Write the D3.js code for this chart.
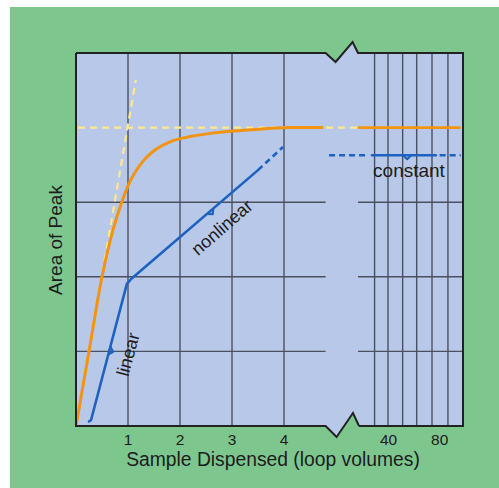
<!DOCTYPE html>
<html><head><meta charset="utf-8">
<script src="https://cdn.jsdelivr.net/npm/d3@7"></script>
<style>html,body{margin:0;padding:0;background:#fff;}svg{display:block;}</style>
</head><body>
<script>
// ---- data ----
const leftGridX = [1, 2, 3, 4];
const rightGridX = [29, 39.5, 51, 62, 74, 86.5];
const gridY = [1, 2, 3];
const tickLeft = [1, 2, 3, 4];
const tickRight = [40, 80];
const orangeX = [0, 0.25, 0.5, 0.7, 0.88, 1.0, 1.29, 1.48, 1.81, 2.2, 2.67, 3.35, 4.1, 4.75];
const orangeY = [0, 1.0, 2.0, 2.6, 3.0, 3.22, 3.55, 3.68, 3.81, 3.88, 3.93, 3.97, 4.0, 4.0];
const orangeRight = [[16, 4.0], [96.5, 4.0]];
const plateauGap = [[4.75, 4.0], [16, 4.0]];
const tangentLine = [[0, 0], [1.15, 4.64]];
const plateauDash = [[0.04, 4.0], [4.75, 4.0]];
const linearSeg = [[0.25, 0.06], [0.29, 0.08], [0.98, 1.91]];
const nonlinearSeg = [[0.99, 1.91], [1.06, 1.97], [3.5, 3.43]];
const nonlinearDash = [[3.5, 3.43], [3.98, 3.74]];
const constDash1 = [[6, 3.63], [23, 3.63]];
const constSolid = [[27, 3.63], [77, 3.63]];
const constDash2 = [[80, 3.63], [96.5, 3.63]];
// notch positions: [segment, x value]
const notchSeg = [linearSeg, nonlinearSeg, constSolid];
const notchX = [0.64, 2.58, 54.5];
const labels = ["linear", "nonlinear", "constant"];

const W = 499, H = 488;
const svg = d3.select("body").append("svg").attr("width", W).attr("height", H);
const x = d3.scaleLinear().domain([0, 4.8, 16, 98.3]).range([76, 325.6, 358, 463]);
const y = d3.scaleLinear().domain([0, 5]).range([426, 53]);

svg.append("rect").attr("x", 10).attr("y", 7).attr("width", W - 10).attr("height", H - 7).attr("fill", "#7dc78f");

const x0 = x(0), x1 = x(98.3), bL = x(4.8), bR = x(16), yt = y(5), yb = y(0);
const framePts = [
  [x0, yt], [bL, yt], [bL + 10, yt + 9], [bL + 27, yt - 11], [bR, yt], [x1, yt],
  [x1, yb], [bR + 1, yb], [bR - 5, yb - 13], [bL + 11, yb + 11], [bL, yb], [x0, yb]
];
svg.append("path").attr("d", d3.line()(framePts) + "Z").attr("fill", "#b8c8e8");

const g = svg.append("g");
leftGridX.concat(rightGridX).forEach(v => {
  g.append("line").attr("x1", x(v)).attr("x2", x(v)).attr("y1", yt).attr("y2", yb)
    .attr("stroke", "#4a5060").attr("stroke-width", 1.4);
});
gridY.forEach(v => {
  g.append("line").attr("x1", x0).attr("x2", bL).attr("y1", y(v)).attr("y2", y(v))
    .attr("stroke", "#4a5060").attr("stroke-width", 1.4);
  g.append("line").attr("x1", bR).attr("x2", x1).attr("y1", y(v)).attr("y2", y(v))
    .attr("stroke", "#4a5060").attr("stroke-width", 1.4);
});

const line = d3.line().x(d => x(d[0])).y(d => y(d[1]));
const yellow = "#ffe88c", orange = "#f39410", blue = "#1d62c0";
[tangentLine, plateauDash].forEach(s => {
  svg.append("path").attr("d", line(s)).attr("fill", "none").attr("stroke", yellow)
    .attr("stroke-width", 2.2).attr("stroke-dasharray", "7,5");
});
svg.append("path").attr("d", line(plateauGap)).attr("fill", "none").attr("stroke", yellow)
  .attr("stroke-width", 2.2).attr("stroke-dasharray", "7,5").attr("stroke-dashoffset", -3);

const orangePts = orangeX.map((v, i) => [v, orangeY[i]]);
svg.append("path").attr("d", d3.line().x(d => x(d[0])).y(d => y(d[1])).curve(d3.curveMonotoneX)(orangePts))
  .attr("fill", "none").attr("stroke", orange).attr("stroke-width", 3);
svg.append("path").attr("d", line(orangeRight)).attr("fill", "none").attr("stroke", orange).attr("stroke-width", 2.6);

[linearSeg, nonlinearSeg, constSolid].forEach(s => {
  svg.append("path").attr("d", line(s)).attr("fill", "none").attr("stroke", blue)
    .attr("stroke-width", 2.6).attr("stroke-linejoin", "round").attr("stroke-linecap", "round");
});
[nonlinearDash, constDash1, constDash2].forEach(s => {
  svg.append("path").attr("d", line(s)).attr("fill", "none").attr("stroke", blue)
    .attr("stroke-width", 2.6).attr("stroke-dasharray", "6,4");
});
notchSeg.forEach((s, i) => {
  const a0 = s[s.length - 2], a1 = s[s.length - 1];
  const t = (notchX[i] - a0[0]) / (a1[0] - a0[0]);
  const px = x(notchX[i]), py = y(a0[1] + t * (a1[1] - a0[1]));
  const dx = x(a1[0]) - x(a0[0]), dy = y(a1[1]) - y(a0[1]);
  const L = Math.hypot(dx, dy), tx = dx / L, ty = dy / L;
  let nx = -ty, ny = tx;
  if (ny < 0 || (ny === 0 && nx < 0)) { nx = -nx; ny = -ny; }
  if (Math.abs(tx) < 0.5 && nx < 0) { nx = -nx; ny = -ny; }
  const p = [[px - tx * 4, py - ty * 4], [px + nx * 4, py + ny * 4], [px + tx * 4, py + ty * 4]];
  svg.append("path").attr("d", d3.line()(p)).attr("fill", "none").attr("stroke", blue)
    .attr("stroke-width", 2.2).attr("stroke-linejoin", "round");
});

svg.append("path").attr("d", d3.line()(framePts.slice(0, 6)) + "L" + x1 + "," + yb + "L" + (bR + 1) + "," + yb)
  .attr("fill", "none").attr("stroke", "#222").attr("stroke-width", 2);
svg.append("path").attr("d", d3.line()(framePts.slice(7).concat([[x0, yt]])))
  .attr("fill", "none").attr("stroke", "#222").attr("stroke-width", 2);

const font = "'Liberation Sans', Arial, Helvetica, sans-serif";
const txt = "#1c1c1c";
tickLeft.concat(tickRight).forEach(v => {
  svg.append("text").attr("x", x(v)).attr("y", 445).attr("text-anchor", "middle")
    .attr("font-family", font).attr("font-size", 15.5).attr("fill", txt).text(v);
});
svg.append("text").attr("x", 273).attr("y", 466).attr("text-anchor", "middle")
  .attr("font-family", font).attr("font-size", 19.3).attr("fill", txt).text("Sample Dispensed (loop volumes)");
svg.append("text").attr("transform", "translate(62,240) rotate(-90)").attr("text-anchor", "middle")
  .attr("font-family", font).attr("font-size", 19).attr("fill", txt).text("Area of Peak");

svg.append("text").attr("transform", "translate(134,356) rotate(-75)").attr("text-anchor", "middle")
  .attr("font-family", font).attr("font-size", 18).attr("fill", txt).text(labels[0]);
svg.append("text").attr("transform", "translate(226,232) rotate(-41)").attr("text-anchor", "middle")
  .attr("font-family", font).attr("font-size", 18).attr("fill", txt).text(labels[1]);
svg.append("text").attr("x", 409).attr("y", 177).attr("text-anchor", "middle")
  .attr("font-family", font).attr("font-size", 19).attr("fill", txt).text(labels[2]);
</script>
</body></html>
